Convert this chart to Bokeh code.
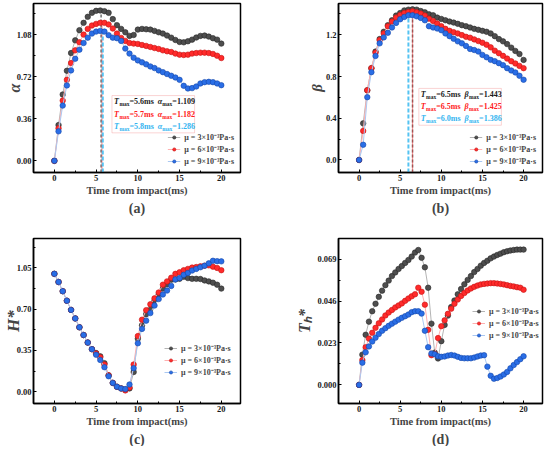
from bokeh.plotting import figure
from bokeh.models import (Range1d, FixedTicker, Legend, LegendItem, Title,
                          Label, BoxAnnotation, PrintfTickFormatter)
from bokeh.layouts import gridplot
from bokeh.embed import file_html
from bokeh.resources import INLINE

# ---------------- data ----------------
t_half = [0.0, 0.5, 1.0, 1.5, 2.0, 2.5, 3.0, 3.5, 4.0, 4.5, 5.0, 5.5, 6.0, 6.5, 7.0,
          7.5, 8.0, 8.5, 9.0, 9.5, 10.0, 10.5, 11.0, 11.5, 12.0, 12.5, 13.0, 13.5,
          14.0, 14.5, 15.0, 15.5, 16.0, 16.5, 17.0, 17.5, 18.0, 18.5, 19.0, 19.5, 20.0]
t_d = [0.0, 0.4, 0.8, 1.2, 1.6, 2.0, 2.4, 2.8, 3.2, 3.6, 4.0, 4.4, 4.8, 5.2, 5.6, 6.0,
       6.4, 6.8, 7.2, 7.6, 8.0, 8.4, 8.8, 9.2, 9.6, 10.0, 10.4, 10.8, 11.2, 11.6, 12.0,
       12.4, 12.8, 13.2, 13.6, 14.0, 14.4, 14.8, 15.2, 15.6, 16.0, 16.4, 16.8, 17.2,
       17.6, 18.0, 18.4, 18.8, 19.2, 19.6, 20.0]

alpha_mu3 = [0, 0.307, 0.569, 0.773, 0.925, 1.034, 1.121, 1.184, 1.236, 1.270, 1.287, 1.290,
             1.284, 1.270, 1.216, 1.164, 1.132, 1.103, 1.072, 1.080, 1.126, 1.132, 1.129,
             1.126, 1.115, 1.103, 1.092, 1.075, 1.057, 1.037, 1.020, 1.017, 1.026, 1.040,
             1.058, 1.072, 1.075, 1.066, 1.052, 1.040, 1.006]
alpha_mu6 = [0, 0.279, 0.517, 0.695, 0.839, 0.948, 1.017, 1.083, 1.132, 1.161, 1.175, 1.184,
             1.184, 1.170, 1.135, 1.092, 1.055, 1.029, 1.011, 1.006, 1.003, 0.994, 0.986,
             0.977, 0.968, 0.960, 0.948, 0.940, 0.934, 0.920, 0.911, 0.908, 0.911, 0.920,
             0.925, 0.928, 0.928, 0.925, 0.917, 0.902, 0.882]
alpha_mu9 = [0, 0.253, 0.474, 0.647, 0.776, 0.876, 0.954, 1.011, 1.057, 1.092, 1.109, 1.115,
             1.109, 1.078, 1.057, 1.052, 1.029, 0.963, 0.920, 0.885, 0.862, 0.845, 0.828,
             0.810, 0.796, 0.776, 0.761, 0.745, 0.730, 0.715, 0.695, 0.644, 0.621, 0.624,
             0.638, 0.664, 0.675, 0.678, 0.675, 0.664, 0.649]

beta_mu3 = [0, 0.351, 0.668, 0.880, 1.039, 1.159, 1.229, 1.292, 1.339, 1.384, 1.409, 1.434,
            1.441, 1.444, 1.441, 1.428, 1.415, 1.396, 1.387, 1.365, 1.352, 1.339, 1.327,
            1.317, 1.305, 1.292, 1.282, 1.270, 1.257, 1.248, 1.238, 1.229, 1.213, 1.187,
            1.159, 1.137, 1.111, 1.077, 1.045, 1.016, 0.959]
beta_mu6 = [0, 0.279, 0.668, 0.880, 1.029, 1.149, 1.213, 1.282, 1.327, 1.365, 1.390, 1.409,
            1.419, 1.425, 1.415, 1.403, 1.384, 1.355, 1.333, 1.308, 1.282, 1.257, 1.238,
            1.225, 1.213, 1.197, 1.181, 1.172, 1.156, 1.140, 1.124, 1.105, 1.080, 1.048,
            1.023, 0.998, 0.972, 0.947, 0.925, 0.902, 0.880]
beta_mu9 = [0, 0.146, 0.602, 0.842, 0.997, 1.118, 1.175, 1.219, 1.270, 1.314, 1.349, 1.371,
            1.387, 1.387, 1.377, 1.362, 1.339, 1.282, 1.270, 1.260, 1.244, 1.213, 1.187,
            1.162, 1.137, 1.118, 1.093, 1.064, 1.054, 1.039, 1.007, 0.985, 0.960, 0.947,
            0.928, 0.909, 0.880, 0.858, 0.839, 0.807, 0.769]

h_mu3 = [1.000, 0.931, 0.853, 0.772, 0.694, 0.622, 0.547, 0.481, 0.417, 0.361, 0.328, 0.300,
         0.242, 0.139, 0.075, 0.042, 0.028, 0.019, 0.028, 0.167, 0.450, 0.564, 0.658, 0.703,
         0.772, 0.825, 0.875, 0.911, 0.950, 0.953, 0.958, 0.975, 0.964, 0.958, 0.958, 0.956,
         0.944, 0.936, 0.925, 0.908, 0.875]
h_mu6 = [1.000, 0.931, 0.853, 0.772, 0.694, 0.622, 0.547, 0.481, 0.417, 0.361, 0.325, 0.292,
         0.231, 0.139, 0.075, 0.042, 0.028, 0.011, 0.036, 0.231, 0.472, 0.611, 0.692, 0.742,
         0.792, 0.842, 0.908, 0.936, 0.967, 1.000, 1.014, 1.031, 1.042, 1.053, 1.058, 1.064,
         1.069, 1.072, 1.061, 1.050, 1.031]
h_mu9 = [1.000, 0.931, 0.853, 0.772, 0.694, 0.622, 0.547, 0.481, 0.417, 0.361, 0.314, 0.269,
         0.208, 0.131, 0.075, 0.042, 0.028, 0.022, 0.061, 0.200, 0.411, 0.533, 0.603, 0.667,
         0.731, 0.786, 0.825, 0.858, 0.897, 0.953, 0.964, 0.992, 1.008, 1.028, 1.042, 1.056,
         1.069, 1.089, 1.111, 1.108, 1.106]

th_mu3 = [0, 0.0166, 0.0275, 0.0347, 0.0404, 0.0445, 0.0483, 0.0517, 0.0547, 0.0572, 0.0597,
          0.0617, 0.0636, 0.0652, 0.0669, 0.0685, 0.0704, 0.0726, 0.0740, 0.0697, 0.0645,
          0.0533, 0.0336, 0.0177, 0.0145, 0.0240, 0.0329, 0.0380, 0.0427, 0.0463, 0.0497,
          0.0526, 0.0552, 0.0576, 0.0597, 0.0619, 0.0636, 0.0654, 0.0669, 0.0681, 0.0694,
          0.0704, 0.0713, 0.0720, 0.0728, 0.0733, 0.0737, 0.0740, 0.0742, 0.0742, 0.0742]
th_mu6 = [0, 0.0136, 0.0207, 0.0254, 0.0286, 0.0313, 0.0338, 0.0359, 0.0381, 0.0397, 0.0411,
          0.0425, 0.0436, 0.0447, 0.0461, 0.0474, 0.0486, 0.0497, 0.0533, 0.0511, 0.0440,
          0.0302, 0.0163, 0.0170, 0.0257, 0.0322, 0.0354, 0.0390, 0.0418, 0.0445, 0.0468,
          0.0488, 0.0504, 0.0518, 0.0529, 0.0538, 0.0545, 0.0551, 0.0554, 0.0556, 0.0558,
          0.0558, 0.0556, 0.0554, 0.0551, 0.0547, 0.0543, 0.0540, 0.0536, 0.0533, 0.0522]
th_mu9 = [0, 0.0122, 0.0179, 0.0211, 0.0238, 0.0259, 0.0279, 0.0297, 0.0311, 0.0324, 0.0336,
          0.0347, 0.0358, 0.0368, 0.0377, 0.0386, 0.0399, 0.0404, 0.0404, 0.0391, 0.0297,
          0.0207, 0.0172, 0.0168, 0.0157, 0.0154, 0.0156, 0.0161, 0.0164, 0.0161, 0.0154,
          0.0148, 0.0146, 0.0146, 0.0146, 0.0150, 0.0156, 0.0161, 0.0163, 0.0100, 0.0050,
          0.0034, 0.0038, 0.0046, 0.0057, 0.0071, 0.0091, 0.0109, 0.0125, 0.0141, 0.0157]

series_labels = ["μ = 3×10⁻³Pa·s", "μ = 6×10⁻³Pa·s", "μ = 9×10⁻³Pa·s"]
x_ticks = [0, 5, 10, 15, 20]
x_minor = [2.5, 7.5, 12.5, 17.5]
alpha_ticks = [0.0, 0.36, 0.72, 1.08]
beta_ticks = [0.0, 0.4, 0.8, 1.2]
h_ticks = [0.0, 0.35, 0.70, 1.05]
th_ticks = [0.0, 0.023, 0.046, 0.069]

alpha_tmax = ["5.6", "5.7", "5.8"]
alpha_max_txt = ["1.109", "1.182", "1.286"]
beta_tmax = ["6.5", "6.5", "6.0"]
beta_max_txt = ["1.443", "1.425", "1.386"]

# ---------------- style ----------------
SERIF = "Liberation Serif"
MK = ["#4e4e4e", "#ff2b2b", "#2a6ee6"]
MK_LINE = ["#262626", "#c41212", "#1446aa"]
LN = ["#b4b4b4", "#ffb0b0", "#aac8f2"]
TXT = ["#1a1a1a", "#ff2020", "#33b4f0"]
VL = [("#6e6e6e", 1.5, "3 2"), ("#e83030", 1.2, "1 1"), ("#55c3f2", 2.0, "4 2")]
X0, X1 = -2.5, 22.3

# approximate advance widths (em) of Liberation Serif Bold
WID = {"T": 0.667, "m": 0.833, "a": 0.5, "x": 0.5, "=": 0.570, ".": 0.25, "s": 0.389,
       " ": 0.25, "α": 0.56, "β": 0.56}


def text_w(s, size):
    return sum(WID.get(c, 0.5) for c in s) * size


def minor_of(ticks, lo, hi):
    step = ticks[1] - ticks[0]
    out = []
    v = ticks[0] - step / 2
    while v <= hi:
        if v >= lo:
            out.append(v)
        v += step
    return out


def panel(width, height, ml, mr, mt, mb, yr, yticks, yfmt, ylab, ysize, ystand, caption):
    p = figure(width=width, height=height, output_backend="svg", toolbar_location=None,
               x_range=Range1d(X0, X1), y_range=Range1d(yr[0], yr[1]),
               min_border_left=ml, min_border_right=mr, min_border_top=mt,
               min_border_bottom=mb)
    p.xgrid.visible = False
    p.ygrid.visible = False
    p.outline_line_color = "black"
    p.outline_line_width = 1.5
    p.outline_line_alpha = 1.0
    for ax in (p.xaxis[0], p.yaxis[0]):
        ax.axis_line_width = 1.5
        ax.major_tick_in = 3
        ax.major_tick_out = 0
        ax.minor_tick_in = 2
        ax.minor_tick_out = 0
        ax.major_label_text_font = SERIF
        ax.major_label_text_font_style = "bold"
        ax.major_label_text_font_size = "8.5px"
        ax.major_label_text_color = "#1a1a1a"
        ax.major_label_standoff = 2
        ax.axis_label_text_font = SERIF
        ax.axis_label_standoff = 1
    p.xaxis.ticker = FixedTicker(ticks=x_ticks, minor_ticks=x_minor)
    p.yaxis.ticker = FixedTicker(ticks=yticks, minor_ticks=minor_of(yticks, yr[0], yr[1]))
    p.yaxis.formatter = PrintfTickFormatter(format=yfmt)
    p.xaxis.axis_label = "Time from impact(ms)"
    p.xaxis.axis_label_text_font_style = "bold"
    p.xaxis.axis_label_text_font_size = "10.5px"
    p.yaxis.axis_label = ylab
    p.yaxis.axis_label_text_font_style = "bold italic"
    p.yaxis.axis_label_text_font_size = ysize
    p.yaxis.axis_label_standoff = ystand
    p.add_layout(Title(text=caption, align="center", text_font=SERIF,
                       text_font_style="bold", text_font_size="14px",
                       standoff=0, offset=0), "below")
    return p


def draw(p, t, ys, loc, margin=0):
    items = []
    for i, y in enumerate(ys):
        l = p.line(t, y, line_color=LN[i], line_width=1)
        s = p.scatter(t, y, size=5.5, fill_color=MK[i], line_color=MK_LINE[i],
                      line_width=0.6)
        items.append(LegendItem(label=series_labels[i], renderers=[l, s]))
    leg = Legend(items=items, location=loc, border_line_color=None,
                 background_fill_alpha=0, label_text_font=SERIF,
                 label_text_font_style="bold", label_text_font_size="8px",
                 glyph_width=13, glyph_height=8, label_height=8, spacing=1,
                 padding=0, margin=margin, label_standoff=4)
    p.add_layout(leg)


def vlines(p, tmax, ys, order):
    for i in order:
        c, w, d = VL[i]
        tm = float(tmax[i])
        p.segment(x0=[tm], y0=[p.y_range.start], x1=[tm], y1=[max(ys[i])],
                  line_color=c, line_width=w, line_dash=d)


def infobox(p, box, tx, tys, tmax, vals, sym):
    p.add_layout(BoxAnnotation(left=box[0], right=box[1], bottom=box[2], top=box[3],
                               fill_color="white", fill_alpha=1.0,
                               line_color="#f07070", line_width=1, level="annotation"))
    big, small = 8, 5.5
    for i in range(3):
        parts = [("T", big, "bold italic", 0), ("max", small, "bold", -2.5),
                 ("=%sms  " % tmax[i], big, "bold", 0), (sym, big, "bold italic", 0),
                 ("max", small, "bold", -2.5), ("=%s" % vals[i], big, "bold", 0)]
        off = 0.0
        for txt, size, style, dy in parts:
            p.add_layout(Label(x=tx, y=tys[i], x_offset=off, y_offset=dy, text=txt,
                               text_font=SERIF, text_font_style=style,
                               text_font_size="%gpx" % size, text_color=TXT[i],
                               text_baseline="middle", text_align="left"))
            off += text_w(txt, size)


# ---------------- panels ----------------
pa = panel(273, 223, 32, 33, 3, 51, (-0.1, 1.35), alpha_ticks, "%.2f", "α", "16px", -9,
           "(a)")
ya = [alpha_mu3, alpha_mu6, alpha_mu9]
vlines(pa, alpha_tmax, ya, [0, 1, 2])
draw(pa, t_half, ya, "bottom_right", margin=6)
infobox(pa, (6.9, 16.8, 0.24, 0.56), 7.15, [0.505, 0.40, 0.295], alpha_tmax,
        alpha_max_txt, "α")

pb = panel(273, 223, 65, 4, 3, 51, (-0.12, 1.5), beta_ticks, "%.1f", "β", "15px", -2,
           "(b)")
yb = [beta_mu3, beta_mu6, beta_mu9]
vlines(pb, beta_tmax, yb, [0, 2, 1])
draw(pb, t_half, yb, "bottom_right", margin=6)
infobox(pb, (7.27, 17.3, 0.333, 0.686), 7.5, [0.629, 0.511, 0.40], beta_tmax,
        beta_max_txt, "β")

pc = panel(273, 223, 32, 33, 15, 42, (-0.1, 1.3), h_ticks, "%.2f", "H*", "17px", -9,
           "(c)")
yc = [h_mu3, h_mu6, h_mu9]
draw(pc, t_half, yc, (131, 26))

pd = panel(273, 223, 65, 4, 15, 42, (-0.0102, 0.0803), th_ticks, "%.3f", "Tₕ*", "16px",
           1, "(d)")
yd = [th_mu3, th_mu6, th_mu9]
draw(pd, t_d, yd, (134, 63))

grid = gridplot([[pa, pb], [pc, pd]], toolbar_location=None)
open("out.html", "w").write(file_html(grid, INLINE))
